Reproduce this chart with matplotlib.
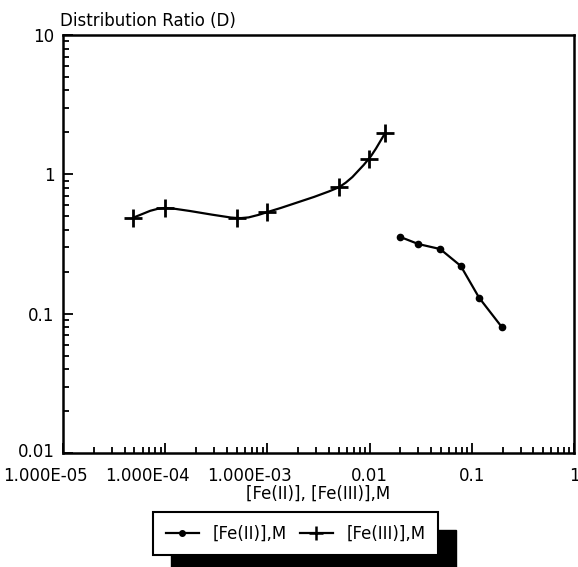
import numpy as np
import matplotlib
matplotlib.use("Agg")
import matplotlib.pyplot as plt
from matplotlib.path import Path
from matplotlib.patches import PathPatch, Rectangle
from matplotlib.lines import Line2D
from matplotlib.transforms import ScaledTranslation

# data
fe3_conc = [4.8e-5, 1.0e-4, 5.0e-4, 1.0e-3, 5.0e-3, 0.0098, 0.0142]
fe3_d = [0.486, 0.573, 0.486, 0.536, 0.81, 1.29, 1.98]
fe2_conc = [0.020, 0.030, 0.049, 0.078, 0.118, 0.197]
fe2_d = [0.355, 0.316, 0.291, 0.220, 0.130, 0.080]

x_ticks = [1e-5, 1e-4, 1e-3, 1e-2, 1e-1, 1]
x_labels = ["1.000E-05", "1.000E-04", "1.000E-03", "0.01", "0.1", "1"]
y_ticks = [0.01, 0.1, 1, 10]
y_labels = ["0.01", "0.1", "1", "10"]

plt.rcParams["font.family"] = ["DejaVu Sans"]
plt.rcParams["font.size"] = 12

fig = plt.figure(figsize=(5.78, 5.67), dpi=100)
ax = fig.add_axes([63 / 578, 1 - 453 / 567, 511 / 578, 418 / 567])
ax.set_xscale("log")
ax.set_yscale("log")
ax.set_xlim(1e-5, 1)
ax.set_ylim(0.01, 10)

# smooth curve through the Fe(III) points (Catmull-Rom in log space, lower tension)
lx = np.log10(fe3_conc)
ly = np.log10(fe3_d)
pts = np.column_stack([lx, ly])
verts = [pts[0]]
codes = [Path.MOVETO]
n = len(pts)
for i in range(n - 1):
    p0 = pts[max(i - 1, 0)]
    p1 = pts[i]
    p2 = pts[i + 1]
    p3 = pts[min(i + 2, n - 1)]
    verts += [p1 + (p2 - p0) / 8, p2 - (p3 - p1) / 8, p2]
    codes += [Path.CURVE4] * 3
curve = Path(10 ** np.array(verts), codes)
ax.add_patch(PathPatch(curve, fill=False, lw=1.6, color="black", transform=ax.transData))
ax.plot(fe3_conc, fe3_d, ls="none", marker="+", ms=13, mew=2, color="black")

ax.plot(fe2_conc, fe2_d, "-", lw=1.6, marker="o", ms=4.5, color="black")

ax.set_xticks(x_ticks)
ax.set_xticklabels(x_labels)
ax.set_yticks(y_ticks)
ax.set_yticklabels(y_labels)
ax.tick_params(which="both", direction="in", top=False, right=False, width=1.3)
ax.tick_params(which="major", length=7)
ax.tick_params(axis="x", which="major", pad=10)
ax.tick_params(axis="y", which="major", pad=6)
ax.tick_params(which="minor", length=4)
for lab in ax.get_xticklabels()[:3]:
    lab.set_transform(lab.get_transform() + ScaledTranslation(-0.18, 0, fig.dpi_scale_trans))
ylab0 = ax.get_yticklabels()[0]
ylab0.set_transform(ylab0.get_transform() + ScaledTranslation(0, 0.03, fig.dpi_scale_trans))
for sp in ax.spines.values():
    sp.set_linewidth(1.8)

fig.text(60 / 578, 1 - 21 / 567, "Distribution Ratio (D)", ha="left", va="center", fontsize=12)
fig.text(318 / 578, 1 - 494 / 567, "[Fe(II)], [Fe(III)],M", ha="center", va="center", fontsize=12)

handles = [
    Line2D([], [], color="black", lw=1.6, marker="o", ms=4),
    Line2D([], [], color="black", lw=1.6, marker="+", ms=10, mew=1.8),
]
leg = fig.legend(handles, ["[Fe(II)],M", "[Fe(III)],M"], loc="upper left",
                 bbox_to_anchor=(153 / 578, 1 - 512 / 567), ncol=2, fancybox=False,
                 edgecolor="black", framealpha=1, borderaxespad=0, columnspacing=0.8,
                 handlelength=2.0, borderpad=0.75, fontsize=12)
leg.get_frame().set_linewidth(1.5)
leg.set_zorder(5)

fig.canvas.draw()
bb = leg.get_frame().get_window_extent().transformed(fig.transFigure.inverted())
off_x, off_y = 18 / 578, 18 / 567
fig.patches.append(Rectangle((bb.x0 + off_x, bb.y0 - off_y), bb.width, bb.height,
                             transform=fig.transFigure, color="black", zorder=4))

fig.savefig("out.png", dpi=100)
